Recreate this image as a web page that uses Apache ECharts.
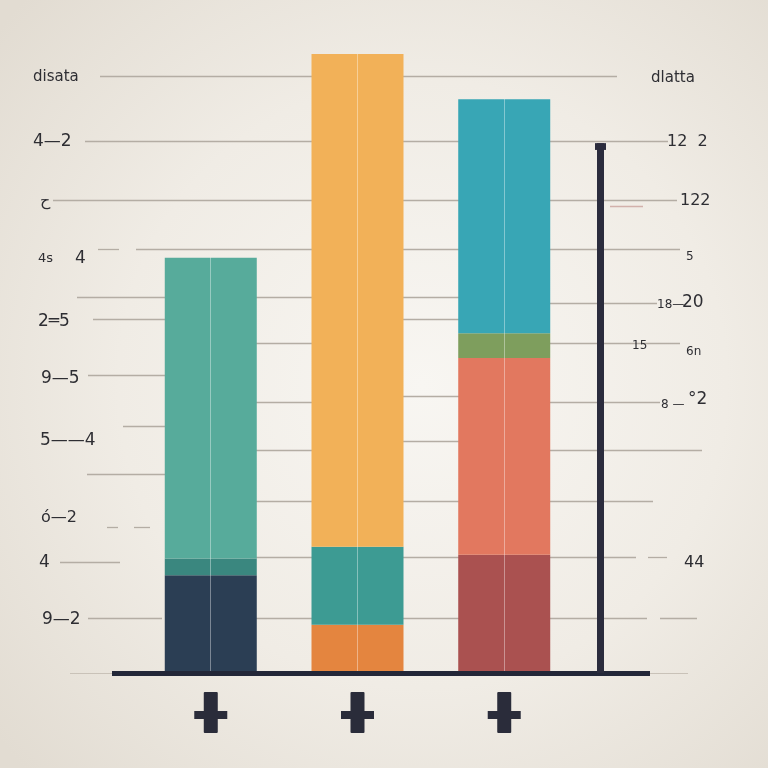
<!DOCTYPE html>
<html><head><meta charset="utf-8">
<script src="https://cdn.jsdelivr.net/npm/echarts@6/dist/echarts.min.js"></script>
<style>html,body{margin:0;padding:0;width:768px;height:768px;overflow:hidden}#c{width:768px;height:768px}</style>
</head><body><div id="c"></div>
<script>
// ---- data ----
const categories = ['A', 'B', 'C'];
const baseSeg  = [15.8, 7.8, 19.1];
const lowerSeg = [2.7, 12.6, 31.8];
const upperSeg = [48.6, 79.6, 4.0];
const topSeg   = [null, null, 37.8];

const leftTickLabels = ['disata', '4—2', 'ح', '4s', '4', '2═5', '9—5', '5——4', 'ό—2', '4', '9—2'];
const leftTickValues = [96.3, 85.9, 76.3, 67.0, 67.0, 56.7, 47.5, 37.5, 25.0, 17.8, 8.7];
const rightTickLabels = ['dlatta', '12  2', '122', '5', '18—', '20', '15', '6n', '8 —', '°2', '44'];
const rightTickValues = [96.1, 85.8, 76.3, 67.2, 59.5, 59.8, 52.8, 51.9, 43.3, 44.1, 17.8];

// guide (grid) lines: [axis value, from, to] in layout units of the decoration axis
const guideLines = [
  [96.4, 100, 617], [85.9, 85, 668], [76.3, 53, 677], [75.4, 610, 643],
  [68.5, 98, 119], [68.5, 136, 680], [60.7, 77, 545], [59.8, 545, 657],
  [57.2, 93, 180], [57.2, 390, 470], [53.2, 250, 320], [53.2, 540, 680],
  [48.1, 88, 180], [44.7, 390, 470], [43.8, 250, 320], [43.8, 540, 660],
  [39.9, 123, 180], [37.5, 390, 470], [36.0, 250, 320], [36.0, 540, 702],
  [32.1, 87, 180], [27.8, 250, 470], [27.8, 540, 653], [23.6, 107, 118],
  [23.6, 134, 150], [18.7, 250, 470], [18.7, 540, 636], [18.7, 648, 667],
  [17.9, 60, 120], [8.9, 88, 162], [8.9, 250, 647], [8.9, 660, 697],
  [0, 70, 112], [0, 650, 688]
];
const frameTop = 85.6;

// ---- styles / layout ----
const palettes = [
  ['#2b3e54', '#e4853f', '#aa5150'],
  ['#3a877f', '#3d9b93', '#e2785f'],
  ['#57ab9b', '#f2b158', '#7e9e5d'],
  ['#38a6b5', '#38a6b5', '#38a6b5']
];
const leftLayout = [
  {x: 33, size: 15}, {x: 33, size: 17}, {x: 40, size: 16}, {x: 38, size: 13},
  {x: 75, size: 17}, {x: 38, size: 17}, {x: 41, size: 17}, {x: 40, size: 17},
  {x: 41, size: 16}, {x: 39, size: 17}, {x: 42, size: 17}
];
const rightLayout = [
  {x: 651, size: 15}, {x: 667, size: 16}, {x: 680, size: 16}, {x: 686, size: 12},
  {x: 657, size: 12}, {x: 682, size: 17}, {x: 632, size: 12}, {x: 686, size: 12},
  {x: 661, size: 12}, {x: 688, size: 17}, {x: 684, size: 16}
];
const FONT = '"DejaVu Sans", sans-serif';

function lighten(hex, t) {
  const n = parseInt(hex.slice(1), 16);
  const r = (n >> 16) & 255, g = (n >> 8) & 255, b = n & 255;
  const f = c => Math.round(c + (255 - c) * t);
  return `rgb(${f(r)},${f(g)},${f(b)})`;
}
function stripe(c) {
  const l = lighten(c, 0.38);
  return {type: 'linear', x: 0, y: 0, x2: 1, y2: 0, colorStops: [
    {offset: 0, color: c}, {offset: 0.494, color: c}, {offset: 0.494, color: l},
    {offset: 0.506, color: l}, {offset: 0.506, color: c}, {offset: 1, color: c}]};
}

const chart = echarts.init(document.getElementById('c'), null, {renderer: 'canvas'});

const barData = [baseSeg, lowerSeg, upperSeg, topSeg];
const barSeries = barData.map((d, si) => ({
  type: 'bar', stack: 'total', xAxisIndex: 0, yAxisIndex: 0, barWidth: 92, z: 3,
  data: d.map(v => v == null ? '-' : v), silent: true,
  itemStyle: {color: p => stripe(palettes[si][p.dataIndex])}
}));

const solid = (color, width) => ({color, width, type: 'solid', opacity: 1});

chart.setOption({
  animation: false,
  backgroundColor: {type: 'radial', x: 0.55, y: 0.5, r: 0.72, colorStops: [
    {offset: 0, color: '#f8f6f2'}, {offset: 0.55, color: '#f0ece5'}, {offset: 1, color: '#e2dcd2'}]},
  grid: [
    {left: 137.4, right: 190.4, top: 54, bottom: 95, containLabel: false, outerBoundsMode: 'none'},
    {left: 0, right: 0, top: 54, bottom: 95, containLabel: false, outerBoundsMode: 'none'}
  ],
  xAxis: [
    {type: 'category', gridIndex: 0, data: categories, show: false},
    {type: 'value', gridIndex: 1, min: 0, max: 768, show: false}
  ],
  yAxis: [
    {type: 'value', gridIndex: 0, min: 0, max: 100, show: false},
    {type: 'value', gridIndex: 1, min: 0, max: 100, show: false}
  ],
  series: [
    {
      type: 'line', xAxisIndex: 1, yAxisIndex: 1, data: [[0, 0]], symbol: 'none',
      lineStyle: {opacity: 0}, z: 1, silent: true,
      markLine: {
        z: 1, zlevel: 0,
        silent: true, symbol: ['none', 'none'], label: {show: false}, animation: false,
        lineStyle: solid('#b4ada4', 1.3),
        data: guideLines.map((g, i) => [
          {coord: [g[1], g[0]], lineStyle: i === 3 ? solid('#d2b1ab', 1.3) : (g[0] === 0 ? solid('#c9c2b8', 1.2) : solid('#b4ada4', 1.3))},
          {coord: [g[2], g[0]]}
        ])
      }
    },
    ...barSeries,
    {
      type: 'line', xAxisIndex: 1, yAxisIndex: 1, data: [[0, 0]], symbol: 'none',
      lineStyle: {opacity: 0}, z: 6, silent: true,
      markLine: {
        z: 8,
        silent: true, symbol: ['none', 'none'], label: {show: false}, animation: false,
        data: [
          [{coord: [112, 0], lineStyle: solid('#232738', 5)}, {coord: [650, 0]}],
          [{coord: [600, frameTop], lineStyle: solid('#2b2c3d', 7)}, {coord: [600, 0]}],
          [{coord: [600, frameTop], lineStyle: solid('#2b2c3d', 11)}, {coord: [600, frameTop - 1.1]}]
        ]
      }
    }
  ]
});

// text + plus glyphs positioned through the axes
const graphics = [];
leftTickLabels.forEach((t, i) => {
  const y = chart.convertToPixel({yAxisIndex: 1}, leftTickValues[i]);
  const L = leftLayout[i];
  graphics.push({type: 'text', silent: true, z: 10, style: {
    text: t, x: L.x, y, fill: '#2e2e33', align: 'left', verticalAlign: 'middle',
    font: `${L.w || 'normal'} ${L.size}px ${FONT}`}});
});
rightTickLabels.forEach((t, i) => {
  const y = chart.convertToPixel({yAxisIndex: 1}, rightTickValues[i]);
  const L = rightLayout[i];
  graphics.push({type: 'text', silent: true, z: 10, style: {
    text: t, x: L.x, y, fill: '#2e2e33', align: 'left', verticalAlign: 'middle',
    font: `${L.w || 'normal'} ${L.size}px ${FONT}`}});
});
categories.forEach((c, i) => {
  const cx = chart.convertToPixel({xAxisIndex: 0}, i);
  graphics.push({type: 'rect', silent: true, z: 10, shape: {x: cx - 7, y: 692, width: 14, height: 41, r: 1}, style: {fill: '#2a2c3a'}});
  graphics.push({type: 'rect', silent: true, z: 10, shape: {x: cx - 16.5, y: 711, width: 33, height: 8}, style: {fill: '#2a2c3a'}});
});
chart.setOption({graphic: graphics});
</script>
</body></html>
